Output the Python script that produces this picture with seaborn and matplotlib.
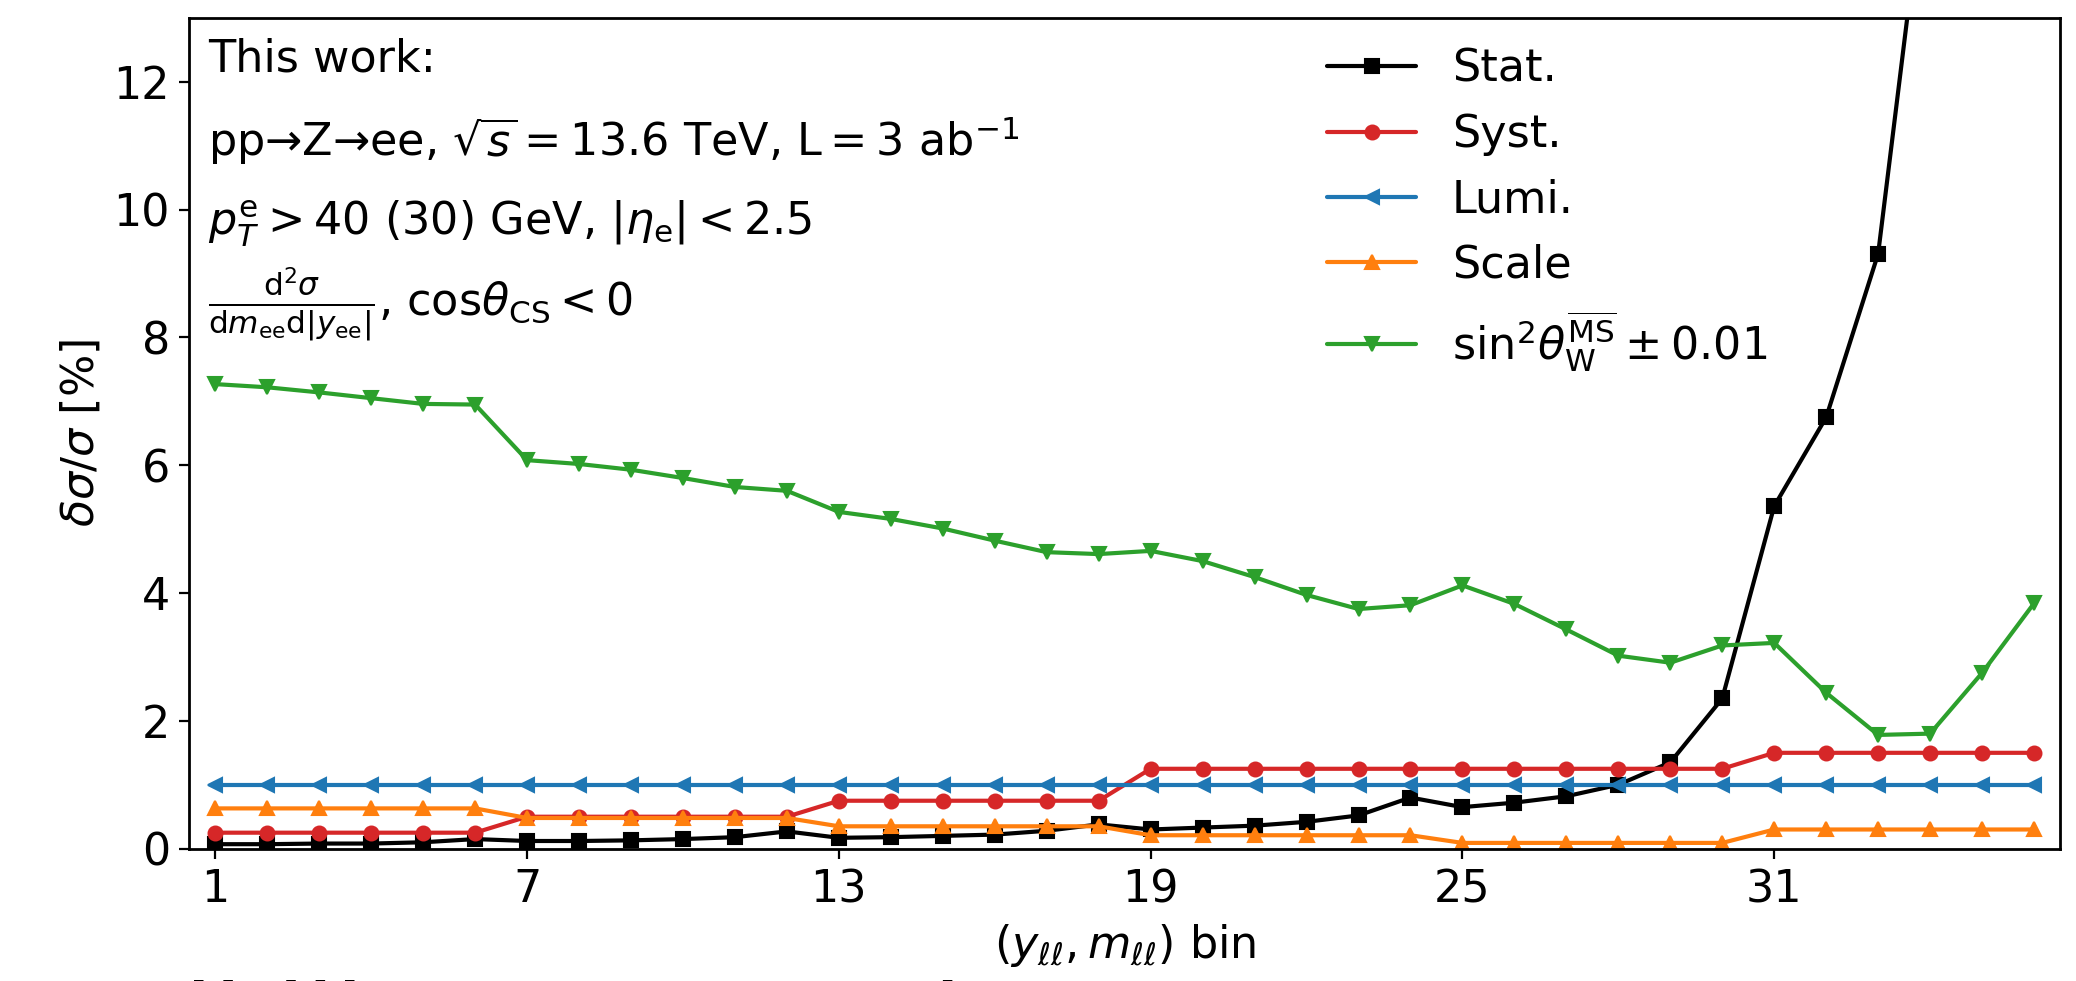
import numpy as np
import pandas as pd
import matplotlib
matplotlib.use('Agg')
import matplotlib.pyplot as plt
import seaborn as sns

# bins
bins = list(range(1, 37))
xtick_pos = [1, 7, 13, 19, 25, 31]

# relative uncertainties [%]
stat = [0.07, 0.07, 0.08, 0.08, 0.10, 0.15,
        0.12, 0.12, 0.13, 0.15, 0.18, 0.27,
        0.17, 0.18, 0.20, 0.22, 0.28, 0.38,
        0.30, 0.33, 0.36, 0.42, 0.52, 0.80,
        0.65, 0.72, 0.82, 1.00, 1.35, 2.35,
        5.36, 6.75, 9.31, 15.9, 24.0, 38.0]
syst = [0.25] * 6 + [0.50] * 6 + [0.75] * 6 + [1.25] * 12 + [1.50] * 6
lumi = [1.0] * 36
scale = [0.63] * 6 + [0.48] * 6 + [0.35] * 6 + [0.21] * 6 + [0.09] * 6 + [0.30] * 6
sin2w = [7.27, 7.22, 7.14, 7.05, 6.96, 6.95,
         6.08, 6.02, 5.93, 5.80, 5.66, 5.60,
         5.27, 5.16, 5.01, 4.82, 4.64, 4.61,
         4.66, 4.50, 4.25, 3.97, 3.75, 3.81,
         4.12, 3.83, 3.43, 3.02, 2.91, 3.18,
         3.22, 2.44, 1.78, 1.80, 2.75, 3.84]

labels = ['Stat.', 'Syst.', 'Lumi.', 'Scale',
          r'$\mathrm{sin}^2\theta_{\mathrm{W}}^{\overline{\mathrm{MS}}}\pm0.01$']
colors = ['black', '#d62728', '#1f77b4', '#ff7f0e', '#2ca02c']
markers = ['s', 'o', '<', '^', 'v']

df = pd.DataFrame({'bin': bins * 5,
                   'val': stat + syst + lumi + scale + sin2w,
                   'src': sum([[l] * 36 for l in labels], [])})

sns.set_style('ticks')
plt.rcParams['font.family'] = ['DejaVu Sans']
plt.rcParams['font.size'] = 16
plt.rcParams['text.color'] = 'black'
plt.rcParams['axes.labelcolor'] = 'black'
plt.rcParams['axes.edgecolor'] = 'black'
plt.rcParams['xtick.color'] = 'black'
plt.rcParams['ytick.color'] = 'black'
plt.rcParams['axes.linewidth'] = 1.0

fig = plt.figure(figsize=(10.38, 4.905), dpi=200)
ax = fig.add_axes([0.0912, 0.1349, 0.9011, 0.8468])

for lab, c, m in zip(labels, colors, markers):
    sns.lineplot(data=df[df['src'] == lab], x='bin', y='val', ax=ax,
                 color=c, marker=m, markersize=5, markeredgecolor=c,
                 linewidth=1.5, label=lab)

ax.set_xlim(0.5, 36.5)
ax.set_ylim(0, 13)
ax.set_xticks(xtick_pos)
ax.set_yticks(range(0, 13, 2))
ax.tick_params(labelsize=16, direction='out', length=3.5, width=0.8)
ax.set_xlabel(r'$(y_{\ell\ell}, m_{\ell\ell})$ bin', fontsize=16)
ax.set_ylabel(r'$\delta\sigma/\sigma$ [%]', fontsize=16)

ax.legend(loc='upper left', bbox_to_anchor=(0.587, 1.012), frameon=False, fontsize=16)

ax.text(0.010, 0.935, 'This work:', transform=ax.transAxes, fontsize=16, va='baseline')
ax.text(0.010, 0.834, r'pp→Z→ee, $\sqrt{s}=13.6$ TeV, $\mathrm{L}=3$ ab$^{-1}$',
        transform=ax.transAxes, fontsize=16, va='baseline')
ax.text(0.010, 0.739, r'$p_T^{\mathrm{e}}>40$ (30) GeV, $|\eta_{\mathrm{e}}|<2.5$',
        transform=ax.transAxes, fontsize=16, va='baseline')
ax.text(0.010, 0.640,
        r'$\frac{\mathrm{d}^2\sigma}{\mathrm{d}m_{\mathrm{ee}}\mathrm{d}|y_{\mathrm{ee}}|}$, $\mathrm{cos}\theta_{\mathrm{CS}}<0$',
        transform=ax.transAxes, fontsize=16, va='baseline')

# clipped heading from below the figure
fig.text(0.03, 0.001, 'Full lll LHC sample', fontsize=38, va='top', ha='left')

fig.savefig('out.png', dpi=200)
